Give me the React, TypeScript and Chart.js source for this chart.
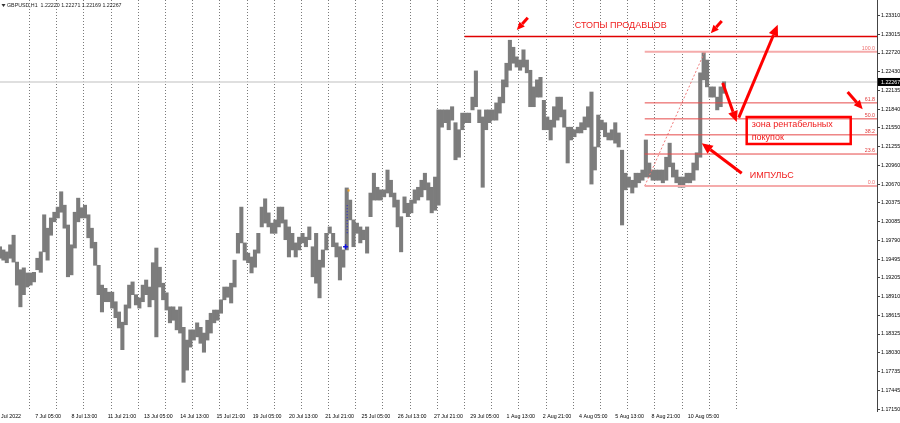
import React, { useEffect, useRef } from 'react';
import { Chart, registerables } from 'chart.js';

Chart.register(...registerables);

const FONT = '"Liberation Sans", Arial, sans-serif';

// ---- header ----
const headerText = 'GBPUSD,H1  1.22220 1.22271 1.22169 1.22267';

// ---- price series (each sample = 3 hourly bars) ----
const BARS_PER_SAMPLE = 3;
const highs = [
  1.1969, 1.1964, 1.1961, 1.1972, 1.1987, 1.1945, 1.1933, 1.1936, 1.1928, 1.1928,
  1.1929, 1.1951, 1.1961, 1.2019, 1.1998, 1.2014, 1.2023, 1.2031, 1.2055, 1.2034,
  1.2003, 1.1972, 1.2023, 1.2045, 1.2030, 1.2034, 1.2019, 1.1998, 1.1976, 1.1940,
  1.1909, 1.1904, 1.1898, 1.1898, 1.1883, 1.1867, 1.1851, 1.1878, 1.1909, 1.1914,
  1.1894, 1.1889, 1.1909, 1.1917, 1.1906, 1.1944, 1.1967, 1.1937, 1.1912, 1.1897,
  1.1875, 1.1875, 1.1870, 1.1875, 1.1843, 1.1823, 1.1839, 1.1839, 1.1850, 1.1843,
  1.1834, 1.1854, 1.1865, 1.1870, 1.1870, 1.1886, 1.1906, 1.1906, 1.1912, 1.1948,
  1.1990, 1.2031, 1.1975, 1.1959, 1.1953, 1.1964, 1.1990, 1.2031, 1.2044, 1.2022,
  1.2006, 1.2011, 1.2031, 1.2031, 1.2011, 1.2000, 1.1990, 1.1975, 1.1984, 1.1990,
  1.1984, 1.2000, 1.1969, 1.1990, 1.1948, 1.1964, 1.1990, 1.2000, 1.1990, 1.1975,
  1.1969, 1.1964, 1.2061, 1.2042, 1.2011, 1.2006, 1.2000, 1.1995, 1.2000, 1.2053,
  1.2084, 1.2062, 1.2058, 1.2058, 1.2089, 1.2073, 1.2053, 1.2042, 1.2016, 1.2047,
  1.2037, 1.2042, 1.2058, 1.2062, 1.2073, 1.2084, 1.2069, 1.2062, 1.2078, 1.2183,
  1.2183, 1.2183, 1.2183, 1.2188, 1.2163, 1.2152, 1.2178, 1.2178, 1.2178, 1.2203,
  1.2244, 1.2183, 1.2172, 1.2183, 1.2183, 1.2183, 1.2194, 1.2203, 1.2230, 1.2256,
  1.2292, 1.2281, 1.2266, 1.2261, 1.2277, 1.2261, 1.2245, 1.2219, 1.2230, 1.2234,
  1.2198, 1.2172, 1.2167, 1.2188, 1.2203, 1.2203, 1.2183, 1.2156, 1.2156, 1.2152,
  1.2156, 1.2163, 1.2172, 1.2188, 1.2211, 1.2125, 1.2175, 1.2167, 1.2163, 1.2147,
  1.2152, 1.2163, 1.2147, 1.2120, 1.2084, 1.2078, 1.2073, 1.2084, 1.2084, 1.2089,
  1.2136, 1.2100, 1.2089, 1.2089, 1.2089, 1.2089, 1.2109, 1.2131, 1.2100, 1.2089,
  1.2078, 1.2078, 1.2084, 1.2084, 1.2100, 1.2116, 1.2241, 1.2274, 1.2261, 1.2219,
  1.2219, 1.2203, 1.2219, 1.2227,
];
const lows = [
  1.1951, 1.1948, 1.1944, 1.1951, 1.1945, 1.1909, 1.1875, 1.1894, 1.1906, 1.1909,
  1.1914, 1.1933, 1.1929, 1.1961, 1.1948, 1.1987, 1.2008, 1.2014, 1.2023, 1.1998,
  1.1922, 1.1925, 1.1967, 1.2008, 1.2014, 1.2014, 1.1983, 1.1967, 1.1940, 1.1894,
  1.1867, 1.1883, 1.1883, 1.1873, 1.1858, 1.1842, 1.1808, 1.1847, 1.1873, 1.1894,
  1.1878, 1.1873, 1.1883, 1.1894, 1.1875, 1.1886, 1.1828, 1.1906, 1.1886, 1.1870,
  1.1850, 1.1854, 1.1839, 1.1834, 1.1757, 1.1776, 1.1812, 1.1823, 1.1828, 1.1818,
  1.1804, 1.1823, 1.1834, 1.1850, 1.1854, 1.1865, 1.1886, 1.1890, 1.1881, 1.1906,
  1.1959, 1.1975, 1.1948, 1.1944, 1.1928, 1.1937, 1.1959, 1.2000, 1.2006, 1.2000,
  1.1990, 1.1990, 1.2000, 1.2006, 1.1980, 1.1953, 1.1964, 1.1953, 1.1964, 1.1975,
  1.1969, 1.1980, 1.1922, 1.1912, 1.1889, 1.1937, 1.1964, 1.1990, 1.1969, 1.1953,
  1.1917, 1.1937, 1.1964, 1.2011, 1.1969, 1.1990, 1.1975, 1.1980, 1.1959, 1.2016,
  1.2042, 1.2042, 1.2042, 1.2047, 1.2053, 1.2047, 1.2031, 1.2000, 1.1961, 1.2022,
  1.2016, 1.2022, 1.2037, 1.2042, 1.2047, 1.2058, 1.2042, 1.2022, 1.2026, 1.2034,
  1.2156, 1.2163, 1.2152, 1.2167, 1.2105, 1.2109, 1.2152, 1.2163, 1.2163, 1.2183,
  1.2188, 1.2163, 1.2062, 1.2152, 1.2163, 1.2167, 1.2167, 1.2178, 1.2194, 1.2219,
  1.2245, 1.2256, 1.2250, 1.2245, 1.2250, 1.2241, 1.2188, 1.2188, 1.2203, 1.2203,
  1.2152, 1.2152, 1.2136, 1.2156, 1.2167, 1.2172, 1.2156, 1.2100, 1.2136, 1.2141,
  1.2147, 1.2147, 1.2152, 1.2156, 1.2067, 1.2089, 1.2125, 1.2152, 1.2141, 1.2136,
  1.2136, 1.2131, 1.2125, 1.2003, 1.2058, 1.2062, 1.2053, 1.2062, 1.2069, 1.2073,
  1.2078, 1.2078, 1.2073, 1.2073, 1.2073, 1.2069, 1.2073, 1.2094, 1.2078, 1.2069,
  1.2062, 1.2062, 1.2069, 1.2069, 1.2073, 1.2089, 1.2109, 1.2230, 1.2219, 1.2203,
  1.2203, 1.2183, 1.2188, 1.2209,
];

// ---- axes ----
const X_MAX_BAR = 774;
const Y_MAX = 1.23549;
const Y_MIN = 1.17121;
const priceTicks = [
  1.2331, 1.23015, 1.2272, 1.2243, 1.22135, 1.2184, 1.2155, 1.21255, 1.2096, 1.2067, 1.20375,
  1.20085, 1.1979, 1.19495, 1.19205, 1.1891, 1.18615, 1.18325, 1.1803, 1.17735, 1.17445, 1.1715,
];
const timeLabels = [
  '6 Jul 2022', '7 Jul 05:00', '8 Jul 13:00', '11 Jul 21:00', '13 Jul 05:00', '14 Jul 13:00',
  '15 Jul 21:00', '19 Jul 05:00', '20 Jul 13:00', '21 Jul 21:00', '25 Jul 05:00', '26 Jul 13:00',
  '27 Jul 21:00', '29 Jul 05:00', '1 Aug 13:00', '2 Aug 21:00', '4 Aug 05:00', '5 Aug 13:00',
  '8 Aug 21:00', '10 Aug 05:00',
];
const timeLabelBars = [
  -3, 31, 63, 95, 127, 159, 191, 223, 255, 287, 319, 351, 383, 415, 447, 479, 511, 543, 575, 607,
];
const dayGridBars = [
  26, 50, 74, 98, 122, 146, 170, 194, 218, 242, 266, 290, 314, 338, 362, 386, 410, 434,
  458, 482, 506, 530, 554, 578, 602, 626, 650,
];
const currentPrice = 1.22267;
const currentPriceLabel = '1.22267';

// ---- objects drawn on the chart ----
const fibNames = ['0.0', '23.6', '38.2', '50.0', '61.8', '100.0'];
const fibPrices = [1.2064, 1.2114, 1.2144, 1.2169, 1.2194, 1.2274];
const fibStartBar = 569;
const fibPeakBar = 622;
const stopsPrice = 1.2298;
const stopsStartBar = 410;

const arrowFrom = [
  [465.8, 1.2327], [637.0, 1.2322], [637.8, 1.2225], [652.0, 1.2171], [748.1, 1.2211], [654.6, 1.2084],
];
const arrowTo = [
  [456.1, 1.2308], [627.3, 1.2303], [650.2, 1.2164], [686.4, 1.2316], [761.4, 1.2184], [619.3, 1.2131],
];
const arrowHeads = [8, 8, 11, 11, 9, 11];

const noteTexts = ['СТОПЫ ПРОДАВЦОВ', 'ИМПУЛЬС', 'зона рентабельных', 'покупок'];
const noteAnchors = [[507.3, 1.2315], [661.7, 1.2080], [663.4, 1.21605], [663.4, 1.21395]];
const zoneBox = [[659.0, 1.21719], [750.8, 1.21297]];

const buyMark = [305.0, 1.1969];
const closeMark = [307.6, 1.2057];
const tradeLine = [[306.4, 1.2034], [306.4, 1.1990]];

function drawArrow(ctx: CanvasRenderingContext2D, x1: number, y1: number, x2: number, y2: number, head: number) {
  const a = Math.atan2(y2 - y1, x2 - x1);
  const bx = x2 - head * Math.cos(a);
  const by = y2 - head * Math.sin(a);
  const hw = head * 0.45;
  ctx.beginPath();
  ctx.moveTo(x1, y1);
  ctx.lineTo(bx, by);
  ctx.lineWidth = 3;
  ctx.strokeStyle = '#ff0000';
  ctx.stroke();
  ctx.beginPath();
  ctx.moveTo(x2, y2);
  ctx.lineTo(bx + hw * Math.sin(a), by - hw * Math.cos(a));
  ctx.lineTo(bx - hw * Math.sin(a), by + hw * Math.cos(a));
  ctx.closePath();
  ctx.fillStyle = '#ff0000';
  ctx.fill();
}

const overlayPlugin = {
  id: 'mtOverlay',
  afterDatasetsDraw(chart: any) {
    const { ctx, chartArea } = chart;
    const xs = chart.scales.x;
    const ys = chart.scales.y;
    const px = (b: number) => xs.getPixelForValue(b);
    const py = (p: number) => ys.getPixelForValue(p);
    ctx.save();
    ctx.font = `5.3px ${FONT}`;
    ctx.textAlign = 'right';
    ctx.textBaseline = 'middle';
    fibPrices.forEach((p, i) => {
      ctx.fillStyle = i === 0 || i === fibPrices.length - 1 ? '#ee7070' : '#e03c3c';
      ctx.fillText(fibNames[i], chartArea.right - 2, py(p) - 3.5);
    });
    arrowFrom.forEach((f, i) => {
      const t = arrowTo[i];
      drawArrow(ctx, px(f[0]), py(f[1]), px(t[0]), py(t[1]), arrowHeads[i]);
    });
    ctx.lineWidth = 2.5;
    ctx.strokeStyle = '#ff0000';
    const bx1 = px(zoneBox[0][0]);
    const by1 = py(zoneBox[0][1]);
    const bx2 = px(zoneBox[1][0]);
    const by2 = py(zoneBox[1][1]);
    ctx.strokeRect(bx1, by1, bx2 - bx1, by2 - by1);
    ctx.font = `9px ${FONT}`;
    ctx.textAlign = 'left';
    ctx.textBaseline = 'middle';
    ctx.fillStyle = '#f01c1c';
    noteTexts.forEach((t, i) => {
      ctx.fillText(t, px(noteAnchors[i][0]), py(noteAnchors[i][1]));
    });
    ctx.restore();
  },
  afterDraw(chart: any) {
    const { ctx, chartArea } = chart;
    const ys = chart.scales.y;
    ctx.save();
    ctx.fillStyle = '#333';
    ctx.beginPath();
    ctx.moveTo(1.5, 4);
    ctx.lineTo(5.5, 4);
    ctx.lineTo(3.5, 7);
    ctx.closePath();
    ctx.fill();
    ctx.font = `5.3px ${FONT}`;
    ctx.textAlign = 'left';
    ctx.textBaseline = 'middle';
    ctx.fillStyle = '#222';
    ctx.fillText(headerText, 7, 5.5);
    const y = ys.getPixelForValue(currentPrice);
    ctx.fillStyle = '#000';
    ctx.fillRect(chartArea.right + 1, y - 4, 900 - chartArea.right - 1, 8);
    ctx.fillStyle = '#fff';
    ctx.fillText(currentPriceLabel, chartArea.right + 4, y + 0.5);
    ctx.restore();
  },
};

function seg(x1: number, y1: number, x2: number, y2: number) {
  return [{ x: x1, y: y1 }, { x: x2, y: y2 }];
}

export default function App() {
  const ref = useRef<HTMLCanvasElement>(null);
  useEffect(() => {
    const fibDatasets = fibPrices.map((p, i) => {
      const outer = i === 0 || i === fibPrices.length - 1;
      return {
        type: 'line',
        data: seg(fibStartBar, p, X_MAX_BAR, p),
        borderColor: outer ? '#f5abab' : '#e64848',
        borderWidth: outer ? 2 : 1,
        pointRadius: 0,
        order: 0,
      };
    });
    const zeroPaddings = (s: any) => {
      s.paddingLeft = 0;
      s.paddingRight = 0;
      s.paddingTop = 0;
      s.paddingBottom = 0;
    };
    const chart = new Chart(ref.current as HTMLCanvasElement, {
      type: 'bar',
      data: {
        datasets: [
          {
            type: 'line',
            data: seg(0, currentPrice, X_MAX_BAR, currentPrice),
            borderColor: '#d4d4d4',
            borderWidth: 1.5,
            pointRadius: 0,
            order: 3,
          },
          {
            type: 'bar',
            data: highs.map((h, k) => ({ x: k * BARS_PER_SAMPLE, y: [lows[k], h] })),
            backgroundColor: '#7c7c7c',
            borderWidth: 0,
            barPercentage: 1,
            categoryPercentage: 1,
            grouped: false,
            order: 2,
          },
          {
            type: 'line',
            data: seg(stopsStartBar, stopsPrice, X_MAX_BAR, stopsPrice),
            borderColor: '#e00000',
            borderWidth: 1.5,
            pointRadius: 0,
            order: 0,
          },
          ...fibDatasets,
          {
            type: 'line',
            data: seg(fibStartBar, fibPrices[0], fibPeakBar, fibPrices[fibPrices.length - 1]),
            borderColor: '#f07a7a',
            borderWidth: 1,
            borderDash: [2, 2],
            pointRadius: 0,
            order: 0,
          },
          {
            type: 'line',
            data: seg(tradeLine[0][0], tradeLine[0][1], tradeLine[1][0], tradeLine[1][1]),
            borderColor: '#2020d0',
            borderWidth: 1,
            borderDash: [1, 2],
            pointRadius: 0,
            order: 0,
          },
          {
            type: 'line',
            data: [{ x: buyMark[0], y: buyMark[1] }],
            showLine: false,
            pointStyle: 'cross',
            pointRadius: 2.5,
            pointBorderWidth: 1.5,
            pointBorderColor: '#1010e0',
            order: 0,
          },
          {
            type: 'line',
            data: [{ x: closeMark[0], y: closeMark[1] }],
            showLine: false,
            pointStyle: 'rect',
            pointRadius: 1.5,
            pointBorderWidth: 0,
            pointBackgroundColor: '#f0a020',
            order: 0,
          },
        ] as any,
      },
      options: {
        responsive: false,
        animation: false,
        devicePixelRatio: 1,
        events: [],
        layout: { padding: 0, autoPadding: false },
        plugins: { legend: { display: false }, tooltip: { enabled: false } },
        scales: {
          xg: {
            type: 'linear',
            position: 'top',
            min: 0,
            max: X_MAX_BAR,
            offset: false,
            afterBuildTicks: (s: any) => {
              s.ticks = dayGridBars.map((v) => ({ value: v }));
            },
            afterFit: (s: any) => {
              s.height = 0;
              zeroPaddings(s);
            },
            ticks: { display: false },
            grid: { display: true, drawOnChartArea: true, drawTicks: false, color: '#7a7a7a', lineWidth: 1, offset: false },
            border: { display: false, dash: [1, 2] },
          },
          x: {
            type: 'linear',
            position: 'bottom',
            min: 0,
            max: X_MAX_BAR,
            offset: false,
            afterBuildTicks: (s: any) => {
              s.ticks = timeLabelBars.map((v) => ({ value: v }));
            },
            afterFit: (s: any) => {
              s.height = 12;
              zeroPaddings(s);
            },
            ticks: {
              callback: (_v: any, i: number) => timeLabels[i],
              align: 'start',
              autoSkip: false,
              maxRotation: 0,
              minRotation: 0,
              padding: 2,
              color: '#000',
              font: { size: 5.3, family: FONT },
            },
            grid: { display: false, drawTicks: false, offset: false },
            border: { display: false },
          },
          y: {
            type: 'linear',
            position: 'right',
            min: Y_MIN,
            max: Y_MAX,
            afterBuildTicks: (s: any) => {
              s.ticks = priceTicks.map((v) => ({ value: v }));
            },
            afterFit: (s: any) => {
              s.width = 23;
              zeroPaddings(s);
            },
            ticks: {
              callback: (v: any) => Number(v).toFixed(5),
              autoSkip: false,
              padding: 1,
              color: '#000',
              font: { size: 5.3, family: FONT },
            },
            grid: { drawOnChartArea: false, drawTicks: true, tickLength: 3, tickColor: '#444' },
            border: { display: true, color: '#444', width: 1 },
          },
        },
      } as any,
      plugins: [overlayPlugin as any],
    });
    return () => chart.destroy();
  }, []);
  return (
    <div style={{ position: 'fixed', left: 0, top: 0, width: 900, height: 423, background: '#fff' }}>
      <canvas ref={ref} width={900} height={423} style={{ display: 'block', width: 900, height: 423 }} />
    </div>
  );
}
